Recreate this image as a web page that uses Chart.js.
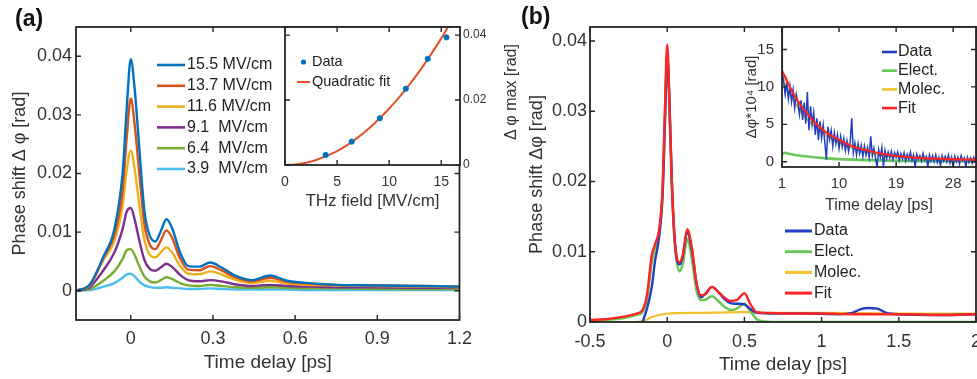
<!DOCTYPE html>
<html>
<head>
<meta charset="utf-8">
<script src="https://cdn.jsdelivr.net/npm/chart.js@4.4.0/dist/chart.umd.min.js"></script>
<style>
  html, body { margin: 0; padding: 0; background: #fff; }
  body { width: 977px; height: 379px; overflow: hidden; position: relative;
         font-family: "Liberation Sans", Arial, sans-serif; color: #333; }
  .box { position: absolute; }
  .panel-label { position: absolute; font-weight: bold; font-size: 23px; color: #111; }
  .rot { position: absolute; transform: translate(-50%, -50%) rotate(-90deg);
         white-space: nowrap; font-size: 16px; color: #333; }
</style>
</head>
<body>
<div class="box" style="left:0;top:0;width:480px;height:379px"><canvas id="mainA"></canvas></div>
<div class="box" style="left:270px;top:0;width:262px;height:230px"><canvas id="insetA"></canvas></div>
<div class="box" style="left:490px;top:0;width:500px;height:379px"><canvas id="mainB"></canvas></div>
<div class="box" style="left:740px;top:0;width:250px;height:230px"><canvas id="insetB"></canvas></div>
<div class="panel-label" style="left:15px;top:5px">(a)</div>
<div class="panel-label" style="left:521px;top:3px">(b)</div>
<div class="rot" style="left:511px;top:92px">Δ φ max [rad]</div>

<script>
// ---- panel (a): phase shift vs time delay for several THz fields ----
const fieldLabels = ['15.5 MV/cm', '13.7 MV/cm', '11.6 MV/cm', '9.1  MV/cm', '6.4  MV/cm', '3.9  MV/cm'];
const fieldColors = ['#0072BD', '#D95319', '#EDB120', '#7E2F8E', '#77AC30', '#4DBEEE'];
const timeA = [-0.2, -0.15, -0.1, -0.06, -0.03, -0.015, 0, 0.015, 0.03, 0.05, 0.07, 0.09, 0.11, 0.13, 0.15,
               0.18, 0.21, 0.25, 0.29, 0.33, 0.38, 0.44, 0.51, 0.57, 0.65, 0.75, 0.9, 1.05, 1.2];
const shift155 = [0, 0.001, 0.0058, 0.0105, 0.02, 0.031, 0.0395, 0.034, 0.025, 0.0135, 0.0093, 0.0084, 0.0102, 0.0122, 0.0108,
                  0.0065, 0.0042, 0.0041, 0.0048, 0.004, 0.0026, 0.0018, 0.0026, 0.0017, 0.0013, 0.001, 0.0009, 0.0008, 0.0007];
const shift137 = [0, 0.001, 0.0056, 0.0095, 0.017, 0.026, 0.0328, 0.028, 0.0205, 0.0113, 0.0078, 0.0071, 0.0086, 0.0103, 0.0091,
                  0.0055, 0.0036, 0.0035, 0.0042, 0.0035, 0.0023, 0.0016, 0.0022, 0.0015, 0.0012, 0.001, 0.0009, 0.0008, 0.0007];
const shift116 = [0, 0.0009, 0.0052, 0.0085, 0.0145, 0.0205, 0.0239, 0.0205, 0.015, 0.0086, 0.0061, 0.0057, 0.0066, 0.0074, 0.0066,
                  0.0042, 0.0029, 0.0028, 0.0033, 0.0028, 0.0019, 0.0013, 0.0017, 0.0012, 0.001, 0.0009, 0.0008, 0.0007, 0.0006];
const shift91  = [0, 0.0006, 0.0035, 0.0065, 0.0105, 0.0135, 0.0141, 0.012, 0.0088, 0.0052, 0.0037, 0.0034, 0.004, 0.0046, 0.0041,
                  0.0027, 0.0018, 0.0016, 0.0018, 0.0016, 0.0011, 0.0008, 0.001, 0.0008, 0.0007, 0.0006, 0.0006, 0.0005, 0.0005];
const shift64  = [0, 0.0003, 0.0017, 0.0033, 0.0054, 0.0069, 0.0071, 0.006, 0.0043, 0.0024, 0.0016, 0.0014, 0.0018, 0.0023, 0.002,
                  0.0013, 0.0009, 0.0008, 0.001, 0.0008, 0.0006, 0.0005, 0.0006, 0.0005, 0.0004, 0.0004, 0.0003, 0.0003, 0.0003];
const shift39  = [0, 0.0001, 0.0007, 0.0013, 0.0022, 0.0028, 0.0029, 0.0024, 0.0016, 0.0009, 0.0006, 0.0005, 0.0005, 0.0006, 0.0005,
                  0.0004, 0.0003, 0.0003, 0.0004, 0.0003, 0.0002, 0.0002, 0.0002, 0.0002, 0.0001, 0.0001, 0.0001, 0.0001, 0.0001];
const xTicksA = [0, 0.3, 0.6, 0.9, 1.2];
const yTicksA = [0, 0.01, 0.02, 0.03, 0.04];

// inset (a): peak phase shift vs field
const fieldVals = [3.9, 6.4, 9.1, 11.6, 13.7, 15.5];
const peakVals = [0.0031, 0.0072, 0.0144, 0.0235, 0.0327, 0.0393];
const fitField = [0, 1, 2, 3, 4, 5, 6, 7, 8, 9, 10, 11, 12, 13, 14, 15, 15.7];
const fitPeak = [0, 0.00017, 0.0007, 0.00156, 0.0028, 0.0043, 0.0062, 0.0085, 0.0111, 0.0141, 0.0174,
                 0.021, 0.025, 0.0293, 0.034, 0.039, 0.0428];
const xTicksInA = [0, 5, 10, 15];
const yTicksInA = [0, 0.02, 0.04];

// ---- panel (b): decomposition of the 15.5 MV/cm trace ----
const timeData = [-0.16, -0.13, -0.1, -0.08, -0.05, -0.03, -0.015, 0, 0.015, 0.03, 0.05, 0.08, 0.1, 0.13, 0.16, 0.19,
                  0.22, 0.25, 0.29, 0.33, 0.37, 0.41, 0.45, 0.5, 0.54, 0.58, 0.7, 0.9, 1.1, 1.2, 1.25, 1.3, 1.36, 1.42,
                  1.5, 1.8, 2.0];
const dataB = [0, 0.002, 0.005, 0.0085, 0.0125, 0.018, 0.028, 0.038, 0.031, 0.02, 0.0112, 0.0082, 0.0092, 0.0128, 0.0102, 0.0055,
               0.0035, 0.0041, 0.005, 0.0043, 0.0033, 0.0027, 0.0026, 0.0025, 0.0018, 0.0013, 0.0012, 0.0012, 0.0011, 0.0013,
               0.0018, 0.002, 0.0019, 0.0013, 0.0011, 0.001, 0.0011];
const timeElect = [-0.5, -0.3, -0.2, -0.16, -0.13, -0.1, -0.08, -0.05, -0.03, -0.015, 0, 0.015, 0.03, 0.05, 0.08, 0.1, 0.13,
                   0.16, 0.19, 0.22, 0.25, 0.29, 0.33, 0.37, 0.41, 0.45, 0.5, 0.54, 0.58, 0.62, 0.7, 1.0, 1.5, 2.0];
const electB = [0.0002, 0.0005, 0.001, 0.0014, 0.0035, 0.0085, 0.0105, 0.013, 0.0185, 0.029, 0.038, 0.03, 0.0195, 0.011, 0.0072,
                0.0082, 0.0118, 0.009, 0.0045, 0.0031, 0.0032, 0.0037, 0.003, 0.0022, 0.0017, 0.0019, 0.0026, 0.0015, 0.0004,
                0.0001, 0, 0, 0, 0];
const timeMolec = [-0.5, -0.2, -0.15, -0.1, -0.05, 0, 0.2, 0.5, 0.7, 1.0, 1.5, 2.0];
const molecB = [0, 0, 0.0002, 0.0007, 0.001, 0.0012, 0.0013, 0.0014, 0.0013, 0.0013, 0.0012, 0.0012];
const timeFit = [-0.5, -0.4, -0.3, -0.25, -0.2, -0.16, -0.13, -0.1, -0.08, -0.05, -0.03, -0.015, 0, 0.015, 0.03, 0.05, 0.08,
                 0.1, 0.13, 0.16, 0.19, 0.22, 0.25, 0.29, 0.33, 0.37, 0.41, 0.45, 0.5, 0.54, 0.58, 0.65, 0.8, 1.0, 1.2, 1.5,
                 1.8, 2.0];
const fitB = [0.0003, 0.0004, 0.0007, 0.0009, 0.0012, 0.0017, 0.004, 0.0095, 0.011, 0.0135, 0.019, 0.03, 0.0395, 0.031, 0.02,
              0.0115, 0.0085, 0.0095, 0.0132, 0.0105, 0.0055, 0.0038, 0.004, 0.005, 0.0043, 0.0035, 0.003, 0.0031, 0.0041,
              0.0025, 0.0014, 0.0013, 0.0012, 0.0012, 0.0011, 0.0011, 0.001, 0.0011];
const xTicksB = [-0.5, 0, 0.5, 1, 1.5, 2];
const yTicksB = [0, 0.01, 0.02, 0.03, 0.04];

// inset (b): long delay tail, in units of 1e-4 rad
const timeLong = [1, 1.05, 1.25, 1.5, 1.75, 2, 2.25, 2.5, 2.75, 3, 3.25, 3.5, 3.75, 4, 4.25, 4.5, 4.75, 5, 5.25, 5.5, 5.75,
                  6, 6.25, 6.5, 6.75, 7, 7.25, 7.5, 7.75, 8, 8.25, 8.5, 8.75, 9, 9.25, 9.5, 9.75, 10, 10.25, 10.5, 10.75,
                  11, 11.25, 11.5, 11.75, 12, 12.25, 12.5, 12.75, 13, 13.25, 13.5, 13.75, 14, 14.25, 14.5, 14.75,
                  15, 15.25, 15.5, 15.75, 16, 16.25, 16.5, 16.75, 17, 17.25, 17.5, 17.75, 18, 18.25, 18.5, 18.75,
                  19, 19.25, 19.5, 19.75, 20, 20.25, 20.5, 20.75, 21, 21.25, 21.5, 21.75, 22, 22.25, 22.5, 22.75,
                  23, 23.25, 23.5, 23.75, 24, 24.25, 24.5, 24.75, 25, 25.25, 25.5, 25.75, 26, 26.25, 26.5, 26.75,
                  27, 27.25, 27.5, 27.75, 28, 28.25, 28.5, 28.75, 29, 29.25, 29.5, 29.75, 30, 30.25, 30.5, 30.75,
                  31, 31.25, 31.5, 31.75, 32];
const dataLong = [19, 12, 10.8, 9.0, 10.6, 8.4, 10.1, 8.0, 9.6, 7.2, 9.0, 7.9, 6.3,
                  8.2, 5.6, 7.9, 5.1, 9.3, 4.2, 7.4, 5.0, 6.6, 3.6, 5.8, 2.9, 5.4, 3.2, 4.9, 2.6,
                  0.3, 4.7, 3.0, 4.2, 2.1, 3.9, 2.4, 3.6, 1.8, 3.4, 2.0, 3.1, 1.5, 2.8, 1.4, 2.6,
                  5.8, 1.2, 2.5, 0.9, 2.4, 1.1, 2.2, 0.7, 2.1, 0.9, 1.9, 0.6, 3.4, 0.8, 1.8, 0.5,
                  -0.7, 1.6, 0.6, 1.9, -0.7, 1.5, 0.4, 1.3, 0.5, 1.4, 0.3, 1.2, 0.6, 1.3, 0.2, 1.1,
                  0.4, 1.2, 0.1, 1.0, 0.3, 1.3, 0.2, 0.9, -0.7, 1.0, 0.3, 0.8, 0.1, 1.1, 0.2, 0.7,
                  -0.7, 0.9, 0.1, 0.8, 0.0, 0.9, -0.1, 0.6, -0.5, 0.8, 0.1, 0.7, 0.0, 0.9, -0.2, 0.6,
                  -0.7, 0.7, 0.0, 0.6, -0.3, 0.8, 0.1, 0.5, -0.7, 0.6, -0.1, 0.5, -0.2, 0.6, 0.0, 0.4, 0.1];
const timeElectLong = [1, 1.5, 2, 3, 4, 6, 8, 10, 13, 16, 20, 25, 32];
const electLong = [1.0, 1.2, 1.1, 0.9, 0.8, 0.6, 0.45, 0.35, 0.25, 0.18, 0.12, 0.08, 0.05];
const timeFitLong = [1, 2, 3, 4, 5, 6, 7, 8, 9, 10, 12, 14, 16, 18, 20, 22, 24, 26, 28, 30, 32];
const molecLong = [11.2, 9.3, 7.9, 6.7, 5.6, 4.8, 4.1, 3.5, 3.0, 2.55, 1.85, 1.4, 1.0, 0.75, 0.6, 0.48, 0.4, 0.33, 0.29, 0.27, 0.25];
const fitLong = [12.2, 10.4, 8.8, 7.5, 6.4, 5.4, 4.6, 3.9, 3.4, 2.9, 2.1, 1.6, 1.2, 0.9, 0.7, 0.56, 0.46, 0.39, 0.33, 0.3, 0.27];
const xTicksInB = [1, 10, 19, 28];
const yTicksInB = [0, 5, 10, 15];

const FONT = '"Liberation Sans", Arial, sans-serif';
Chart.defaults.font.family = FONT;
Chart.defaults.color = '#333';

const pts = (xs, ys) => xs.map((x, i) => ({ x: x, y: ys[i] }));
const setTicks = list => scale => { scale.ticks = list.map(v => ({ value: v })); };

// matlab style box: closed frame, inward ticks on all four sides
const boxPlugin = {
  id: 'matlabBox',
  defaults: { fill: null, tickLen: 5, lineWidth: 1.8 },
  beforeDraw(chart, args, opts) {
    if (!opts.fill) return;
    const { ctx, chartArea: a } = chart;
    ctx.save();
    ctx.fillStyle = opts.fill;
    ctx.fillRect(a.left, a.top, a.right - a.left, a.bottom - a.top);
    ctx.restore();
  },
  afterDatasetsDraw(chart, args, opts) {
    const { ctx, chartArea: a } = chart;
    const len = opts.tickLen;
    ctx.save();
    ctx.strokeStyle = '#262626';
    ctx.lineWidth = 1.4;
    ctx.beginPath();
    Object.values(chart.scales).forEach(scale => {
      scale.ticks.forEach(t => {
        const p = scale.getPixelForValue(t.value);
        if (scale.isHorizontal()) {
          if (p < a.left || p > a.right) return;
          ctx.moveTo(p, a.bottom); ctx.lineTo(p, a.bottom - len);
          ctx.moveTo(p, a.top); ctx.lineTo(p, a.top + len);
        } else {
          if (p < a.top || p > a.bottom) return;
          ctx.moveTo(a.left, p); ctx.lineTo(a.left + len, p);
          ctx.moveTo(a.right, p); ctx.lineTo(a.right - len, p);
        }
      });
    });
    ctx.stroke();
    ctx.lineWidth = opts.lineWidth;
    ctx.strokeRect(a.left, a.top, a.right - a.left, a.bottom - a.top);
    ctx.restore();
  }
};

// legend drawn like matlab: short line sample, then label
const lineLegend = {
  id: 'lineLegend',
  afterDraw(chart, args, o) {
    if (o.x == null) return;
    const ctx = chart.ctx;
    ctx.save();
    ctx.font = o.textFont;
    ctx.textBaseline = 'middle';
    chart.data.datasets.forEach((ds, i) => {
      const y = o.y + i * o.gap;
      if (ds.showLine === false) {
        ctx.fillStyle = ds.borderColor;
        ctx.beginPath();
        ctx.arc(o.x + o.len / 2, y, ds.pointRadius, 0, Math.PI * 2);
        ctx.fill();
      } else {
        ctx.strokeStyle = ds.borderColor;
        ctx.lineWidth = o.lineWidth || ds.borderWidth;
        ctx.beginPath();
        ctx.moveTo(o.x, y);
        ctx.lineTo(o.x + o.len, y);
        ctx.stroke();
      }
      ctx.fillStyle = o.textColor;
      ctx.fillText(ds.label, o.x + o.len + o.pad, y);
    });
    ctx.restore();
  }
};

function axis(min, max, ticks, opts) {
  const ax = {
    type: 'linear', min: min, max: max,
    afterBuildTicks: setTicks(ticks),
    grid: { display: false, drawTicks: false },
    border: { display: false },
    ticks: { padding: opts.pad, font: { size: opts.font }, color: '#333', autoSkip: false,
             maxRotation: 0, callback: v => String(v) },
    title: opts.title ? { display: true, text: opts.title, color: '#333', font: { size: opts.titleFont },
                          padding: opts.titlePad } : { display: false }
  };
  if (opts.position) ax.position = opts.position;
  if (opts.width != null) ax.afterFit = s => { s.width = opts.width; };
  if (opts.height != null) ax.afterFit = s => { s.height = opts.height; };
  return ax;
}

const baseOptions = {
  responsive: true,
  maintainAspectRatio: false,
  animation: false,
  events: [],
  elements: { point: { radius: 0 }, line: { cubicInterpolationMode: 'monotone' } }
};

// panel (a) main
const seriesA = [shift155, shift137, shift116, shift91, shift64, shift39];
new Chart(document.getElementById('mainA'), {
  type: 'line',
  data: {
    datasets: seriesA.map((s, i) => ({
      label: fieldLabels[i], data: pts(timeA, s),
      borderColor: fieldColors[i], borderWidth: 2.4
    }))
  },
  options: {
    ...baseOptions,
    layout: { padding: { left: 0, top: 27, right: 20, bottom: 0 } },
    plugins: {
      legend: { display: false }, tooltip: { enabled: false },
      lineLegend: { x: 157, y: 65, gap: 20.8, len: 28, pad: 2, lineWidth: 2.6,
                    textFont: '16px ' + FONT, textColor: '#222' }
    },
    scales: {
      x: axis(-0.2, 1.2, xTicksA, { pad: 8, font: 18, height: 59, title: 'Time delay [ps]', titleFont: 19,
                                    titlePad: { top: 0, bottom: 5 } }),
      y: axis(-0.005, 0.045, yTicksA, { pad: 4, font: 18, width: 76, title: 'Phase shift Δ φ [rad]', titleFont: 18,
                                        titlePad: { top: 9, bottom: 0 } })
    }
  },
  plugins: [boxPlugin, lineLegend]
});

// panel (a) inset
new Chart(document.getElementById('insetA'), {
  type: 'line',
  data: {
    datasets: [
      { label: 'Data', data: pts(fieldVals, peakVals), showLine: false, pointRadius: 2.6,
        borderColor: '#0072BD', backgroundColor: '#0072BD' },
      { label: 'Quadratic fit', data: pts(fitField, fitPeak), borderColor: '#E2522A', borderWidth: 2 }
    ]
  },
  options: {
    ...baseOptions,
    layout: { padding: { left: 15, top: 27, right: 0, bottom: 0 } },
    plugins: {
      legend: { display: false }, tooltip: { enabled: false },
      matlabBox: { fill: '#fff' },
      lineLegend: { x: 27, y: 62, gap: 20, len: 13, pad: 2, textFont: '14.5px ' + FONT, textColor: '#222' }
    },
    scales: {
      x: axis(0, 16.8, xTicksInA, { pad: 9, font: 14, height: 65, title: 'THz field [MV/cm]', titleFont: 17,
                                    titlePad: { top: 0, bottom: 18 } }),
      y: axis(0, 0.0425, yTicksInA, { pad: 3, font: 12, width: 72, position: 'right' })
    }
  },
  plugins: [boxPlugin, lineLegend]
});

// panel (b) main
new Chart(document.getElementById('mainB'), {
  type: 'line',
  data: {
    datasets: [
      { label: 'Data', data: pts(timeData, dataB), borderColor: '#1f3fbf', borderWidth: 2.4, order: 1 },
      { label: 'Elect.', data: pts(timeElect, electB), borderColor: '#6ac85a', borderWidth: 2.6, order: 2 },
      { label: 'Molec.', data: pts(timeMolec, molecB), borderColor: '#f2c12e', borderWidth: 2.2, order: 3 },
      { label: 'Fit', data: pts(timeFit, fitB), borderColor: '#ff2525', borderWidth: 2.4, order: 0 }
    ]
  },
  options: {
    ...baseOptions,
    layout: { padding: { left: 0, top: 27, right: 14, bottom: 0 } },
    plugins: {
      legend: { display: false }, tooltip: { enabled: false },
      lineLegend: { x: 295, y: 231, gap: 20.7, len: 27, pad: 2, lineWidth: 3,
                    textFont: '16px ' + FONT, textColor: '#222' }
    },
    scales: {
      x: axis(-0.5, 2, xTicksB, { pad: 9, font: 18, height: 57, title: 'Time delay [ps]', titleFont: 19,
                                  titlePad: { top: 0, bottom: 3 } }),
      y: axis(0, 0.042, yTicksB, { pad: 3, font: 18, width: 100, title: 'Phase shift Δφ [rad]', titleFont: 18,
                                   titlePad: { top: 36, bottom: 0 } })
    }
  },
  plugins: [boxPlugin, lineLegend]
});

// panel (b) inset
new Chart(document.getElementById('insetB'), {
  type: 'line',
  data: {
    datasets: [
      { label: 'Data', data: pts(timeLong, dataLong), borderColor: '#1f3fbf', borderWidth: 1.5,
        cubicInterpolationMode: 'default', tension: 0, order: 1 },
      { label: 'Elect.', data: pts(timeElectLong, electLong), borderColor: '#6ac85a', borderWidth: 2.6, order: 3 },
      { label: 'Molec.', data: pts(timeFitLong, molecLong), borderColor: '#f2c12e', borderWidth: 2, order: 2 },
      { label: 'Fit', data: pts(timeFitLong, fitLong), borderColor: '#ff2525', borderWidth: 2.2, order: 0 }
    ]
  },
  options: {
    ...baseOptions,
    layout: { padding: { left: 0, top: 27, right: 14, bottom: 0 } },
    plugins: {
      legend: { display: false }, tooltip: { enabled: false },
      matlabBox: { fill: '#fff' },
      lineLegend: { x: 142, y: 52, gap: 18.7, len: 15, pad: 1, lineWidth: 2.6,
                    textFont: '16px ' + FONT, textColor: '#222' }
    },
    scales: {
      x: axis(1, 31.6, xTicksInB, { pad: 8, font: 15, height: 63, title: 'Time delay [ps]', titleFont: 16,
                                    titlePad: { top: 0, bottom: 15 } }),
      y: axis(-0.7, 18, yTicksInB, { pad: 8, font: 15, width: 42, title: 'Δφ*10⁴ [rad]', titleFont: 15,
                                     titlePad: { top: 3, bottom: 0 } })
    }
  },
  plugins: [boxPlugin, lineLegend]
});
</script>
</body>
</html>
